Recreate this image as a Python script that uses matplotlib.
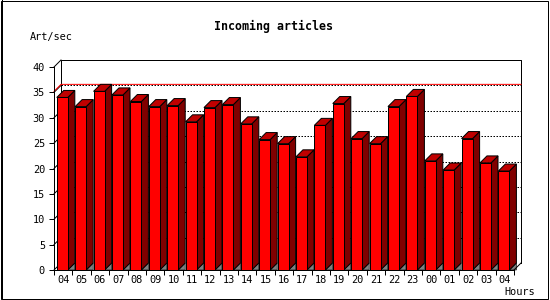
import matplotlib
matplotlib.use("Agg")
import matplotlib.pyplot as plt
from matplotlib.patches import Polygon, Rectangle
from matplotlib.lines import Line2D

hours = ["04", "05", "06", "07", "08", "09", "10", "11", "12", "13", "14", "15",
         "16", "17", "18", "19", "20", "21", "22", "23", "00", "01", "02", "03", "04"]
values = [34.0, 32.2, 35.2, 34.5, 33.2, 32.2, 32.4, 29.2, 32.0, 32.6, 28.8, 25.7,
          24.9, 22.3, 28.5, 32.8, 25.9, 24.9, 32.2, 34.2, 21.5, 19.7, 25.9, 21.1, 19.5]
yticks = [0, 5, 10, 15, 20, 25, 30, 35, 40]
title = "Incoming articles"
ylabel = "Art/sec"
xlabel = "Hours"

FRONT = "#ff0000"
SIDE = "#800000"
TOP = "#c00000"
SHADOW = "#808080"
LW = 0.72
MONO = "DejaVu Sans Mono"

W, H = 550, 300
fig = plt.figure(figsize=(W / 100, H / 100), dpi=100)
fig.patch.set_facecolor("white")

ax = fig.add_axes([54 / W, 1 - 270 / H, 460 / W, 203 / H])
n = len(values)
ax.set_xlim(0, n)
ax.set_ylim(0, 40)
ax.patch.set_visible(False)
for s in ("top", "right"):
    ax.spines[s].set_visible(False)
for s in ("left", "bottom"):
    ax.spines[s].set_linewidth(LW)
    ax.spines[s].set_zorder(20)

# depth offset (7 px) expressed in data units via the axes transform
fig.canvas.draw()
inv = ax.transData.inverted()
x0d, y0d = inv.transform(ax.transData.transform((0, 0)))
pdx, pdy = inv.transform(ax.transData.transform((0, 0)) + [7, 7])
ddx, ddy = pdx - x0d, pdy - y0d

ymax = 40
# back plane frame
back_kw = dict(color="black", lw=LW, clip_on=False, zorder=1)
ax.add_line(Line2D([ddx, ddx, n + ddx, n + ddx], [ddy, ymax + ddy, ymax + ddy, ddy], **back_kw))
ax.add_line(Line2D([0, ddx], [ymax, ymax + ddy], **back_kw))
ax.add_line(Line2D([n, n + ddx], [0, ddy], color="black", lw=LW, clip_on=False, zorder=25))

# dotted gridlines on back plane + short connectors
for t in yticks[1:-1]:
    ax.add_line(Line2D([ddx, n + ddx], [t + ddy, t + ddy], color="black", lw=LW,
                       ls=(0, (1.5, 1.5)), clip_on=False, zorder=1))
for t in yticks[:-1]:
    ax.add_line(Line2D([0, ddx], [t, t + ddy], color="black", lw=LW, clip_on=False, zorder=1))

# max line
vmax = max(values)
ax.add_line(Line2D([0, ddx, n + ddx], [vmax, vmax + ddy, vmax + ddy], color="red", lw=LW,
                   clip_on=False, zorder=2))

# bars
off, bw = 0.15, 0.6
for i, v in enumerate(values):
    L = i + off
    R = L + bw
    z = 5
    ax.add_patch(Polygon([(R, 0), (R + ddx, ddy), (R + ddx, 0)], closed=True,
                         facecolor=SHADOW, edgecolor="black", lw=LW * 0.6, zorder=z, clip_on=False))
    ax.add_patch(Polygon([(R, 0), (R, v), (R + ddx, v + ddy), (R + ddx, ddy)], closed=True,
                         facecolor=SIDE, edgecolor="black", lw=LW, zorder=z, clip_on=False))
    ax.add_patch(Polygon([(L, v), (R, v), (R + ddx, v + ddy), (L + ddx, v + ddy)], closed=True,
                         facecolor=TOP, edgecolor="black", lw=LW, zorder=z, clip_on=False))
    ax.add_patch(Rectangle((L, 0), bw, v, facecolor=FRONT, edgecolor="black", lw=LW,
                           zorder=z + 1, clip_on=False))

# ticks
ax.set_yticks(yticks)
ax.set_yticklabels([str(t) for t in yticks], fontfamily=MONO, fontsize=7.4)
ax.set_xticks(range(n + 1))
ax.set_xticklabels([])
ax.set_xticks([i + 0.5 for i in range(n)], minor=True)
ax.set_xticklabels(hours, minor=True, fontfamily=MONO, fontsize=7.4)
ax.tick_params(axis="x", which="major", length=3.5, width=LW, direction="out")
ax.tick_params(axis="x", which="minor", length=0, pad=3.5)
ax.tick_params(axis="y", length=3.5, width=LW, pad=3)

# texts
fig.text(273.5 / W, 1 - 26.7 / H, title, ha="center", va="center",
         fontfamily=MONO, fontweight="bold", fontsize=8.4)
fig.text(30 / W, 1 - 36.7 / H, ylabel, ha="left", va="center", fontfamily=MONO, fontsize=7.4)
fig.text(504 / W, 1 - 292.3 / H, xlabel, ha="left", va="center", fontfamily=MONO, fontsize=7.4)

# outer frame
fig.add_artist(Rectangle((0.5 / W, 1.5 / H), 547.5 / W, 298 / H, transform=fig.transFigure,
                         fill=False, edgecolor="black", lw=LW))
fig.add_artist(Line2D([1.5 / W, 1.5 / W], [1.5 / H, 1], transform=fig.transFigure,
                      color="black", lw=LW))

fig.savefig("out.png", dpi=100, facecolor="white")
